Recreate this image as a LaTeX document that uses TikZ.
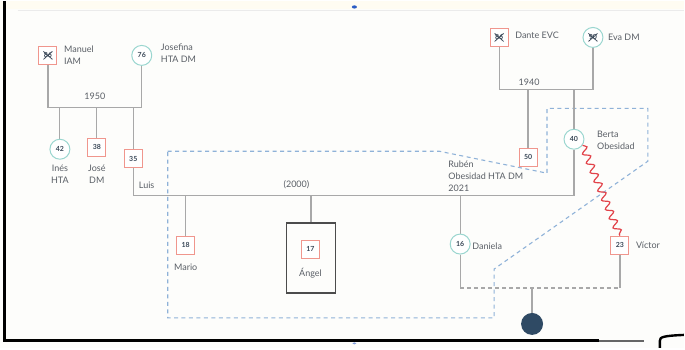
\documentclass[tikz,border=0pt]{standalone}
\usepackage{fontspec}
\setmainfont{Lato}
\usetikzlibrary{positioning, calc, backgrounds, decorations.pathmorphing}
\definecolor{linegray}{HTML}{A8A8A8}
\definecolor{malered}{HTML}{F0968D}
\definecolor{femaleteal}{HTML}{9AD6CF}
\definecolor{hhblue}{HTML}{8FB2D8}
\definecolor{conflictred}{HTML}{E2434A}
\definecolor{babyblue}{HTML}{2F4A64}
\definecolor{textgray}{HTML}{5A5F66}
\definecolor{numcolor}{HTML}{3A4858}
\definecolor{paper}{HTML}{FDFDFB}
\definecolor{topstrip}{HTML}{FFFCF2}
\definecolor{handleblue}{HTML}{2B5CC4}
\tikzset{
	malenode/.style={
			shape=rectangle,
			draw=malered,
			fill=white,
			line width=1pt,
			minimum size=18pt,
			inner sep=0pt,
			font=\fontsize{7}{8}\selectfont\bfseries\color{numcolor}
		},
	femalenode/.style={
			shape=circle,
			draw=femaleteal,
			fill=white,
			line width=1pt,
			minimum size=20pt,
			inner sep=0pt,
			font=\fontsize{7}{8}\selectfont\bfseries\color{numcolor}
		},
	deadnode/.style={
			path picture={
				\draw[numcolor, line width=0.8pt]
					($(path picture bounding box.center)+(-4.5,-4)$) -- ($(path picture bounding box.center)+(4.5,4)$)
					($(path picture bounding box.center)+(-4.5,4)$) -- ($(path picture bounding box.center)+(4.5,-4)$);
			}
		},
	famline/.style={draw=linegray, line width=1.2pt},
	unionline/.style={famline, dash pattern=on 4pt off 3pt},
	household/.style={draw=hhblue, line width=1.1pt, dash pattern=on 4pt off 3.5pt},
	conflict/.style={
			draw=conflictred, line width=1.2pt,
			decorate, decoration={snake, segment length=10pt, amplitude=3.5pt}
		},
	namelabel/.style={
			font=\fontsize{9}{12}\selectfont, text=textgray,
			inner sep=0pt, align=left
		},
	yearlabel/.style={namelabel, align=center}
}

\begin{document}
\begin{tikzpicture}[x=1pt, y=-1pt]

  % first generation
  \node[malenode, deadnode] (manuel) at (48,54) {86};
  \node[femalenode] (josefina) at (142,54) {76};
  \node[malenode, deadnode] (dante) at (500,36) {86};
  \node[femalenode, deadnode] (eva) at (594,36) {90};

  % second generation
  \node[femalenode] (ines) at (60,148) {42};
  \node[malenode] (jose) at (97,146) {38};
  \node[malenode] (luis) at (133.5,157.5) {35};
  \node[malenode] (ruben) at (529,156) {50};
  \node[femalenode] (berta) at (575,138) {40};

  % third generation
  \node[malenode] (mario) at (186,244) {18};
  \node[draw=black!70, line width=1.3pt, minimum width=49pt, minimum height=70pt] (angelbox) at (311.5,257) {};
  \node[malenode] (angel) at (311,248) {17};
  \node[femalenode] (daniela) at (461,243) {16};
  \node[malenode] (victor) at (621,244) {23};
  \node[circle, fill=babyblue, minimum size=22pt, inner sep=0pt] (baby) at (533,323) {};

  \begin{scope}[on background layer]
    % page and frame
    \fill[paper] (0,0) rectangle (685,347);
    \fill[topstrip] (0,0) rectangle (685,8);
    \draw[black!8, line width=0.6pt] (18,8.5) -- (685,8.5);
    \fill[handleblue] (355,5.5) ellipse (2.6 and 1.6);
    \fill[handleblue!60] (355,342.5) ellipse (2 and 1);
    \draw[black, line width=3pt] (5,0) -- (5,340) -- (600,340);
    \draw[black!60, line width=2.2pt] (600,340) -- (645,340);
    \draw[black, line width=2.4pt] (661,347) -- (661,340) .. controls (661,336) and (664,335) .. (685,334);

    % household boundary
    \draw[household] (168,150) -- (440,150) -- (548,172) -- (548,107) -- (649,107)
      -- (649,160) -- (495,268) -- (495,317) -- (168,317) -- cycle;

    % unions
    \coordinate (wed1) at (95,106);
    \coordinate (wed2) at (311,194);
    \coordinate (wed3) at (547,88);
    \coordinate (wed4) at (533,287);
    \draw[famline] (manuel) |- (wed1) -| (josefina);
    \draw[famline] (dante) |- (wed3) -| (eva);
    \draw[famline] (luis) |- (wed2) -| (berta);
    \draw[famline] (daniela) -- (daniela |- wed4);
    \draw[famline] (victor) -- (victor |- wed4);
    \draw[unionline] (daniela |- wed4) -- (victor |- wed4);

    % children
    \foreach \kid in {ines, jose, luis}
      \draw[famline] (\kid) -- (\kid |- wed1);
    \foreach \kid in {ruben, berta}
      \draw[famline] (\kid) -- (\kid |- wed3);
    \foreach \kid in {mario, daniela}
      \draw[famline] (\kid) -- (\kid |- wed2);
    \draw[famline] (angelbox) -- (angelbox |- wed2);
    \draw[famline] (baby) -- (wed4);
  \end{scope}

  % conflict
  \draw[conflict] (berta.-35) -- (victor.north);

  % labels
  \node[namelabel, anchor=west] at (64,54) {Manuel\\IAM};
  \node[namelabel, anchor=west] at (161,52) {Josefina\\HTA DM};
  \node[namelabel, anchor=west] at (516,34) {Dante EVC};
  \node[namelabel, anchor=west] at (609,36) {Eva DM};
  \node[yearlabel] at (95,95) {1950};
  \node[yearlabel] at (530,81) {1940};
  \node[yearlabel] at (297,183) {(2000)};
  \node[yearlabel, anchor=north] at (60,164) {Inés\\HTA};
  \node[yearlabel, anchor=north] at (97,164) {José\\DM};
  \node[namelabel, anchor=west] at (139,184) {Luis};
  \node[namelabel, anchor=west] at (598,139) {Berta\\Obesidad};
  \node[namelabel, anchor=west] at (449,175) {Rubén\\Obesidad HTA DM\\2021};
  \node[yearlabel] at (186,266) {Mario};
  \node[yearlabel] at (311,272) {Ángel};
  \node[namelabel, anchor=west] at (473,245) {Daniela};
  \node[namelabel, anchor=west] at (637,244) {Víctor};

\end{tikzpicture}
\end{document}
